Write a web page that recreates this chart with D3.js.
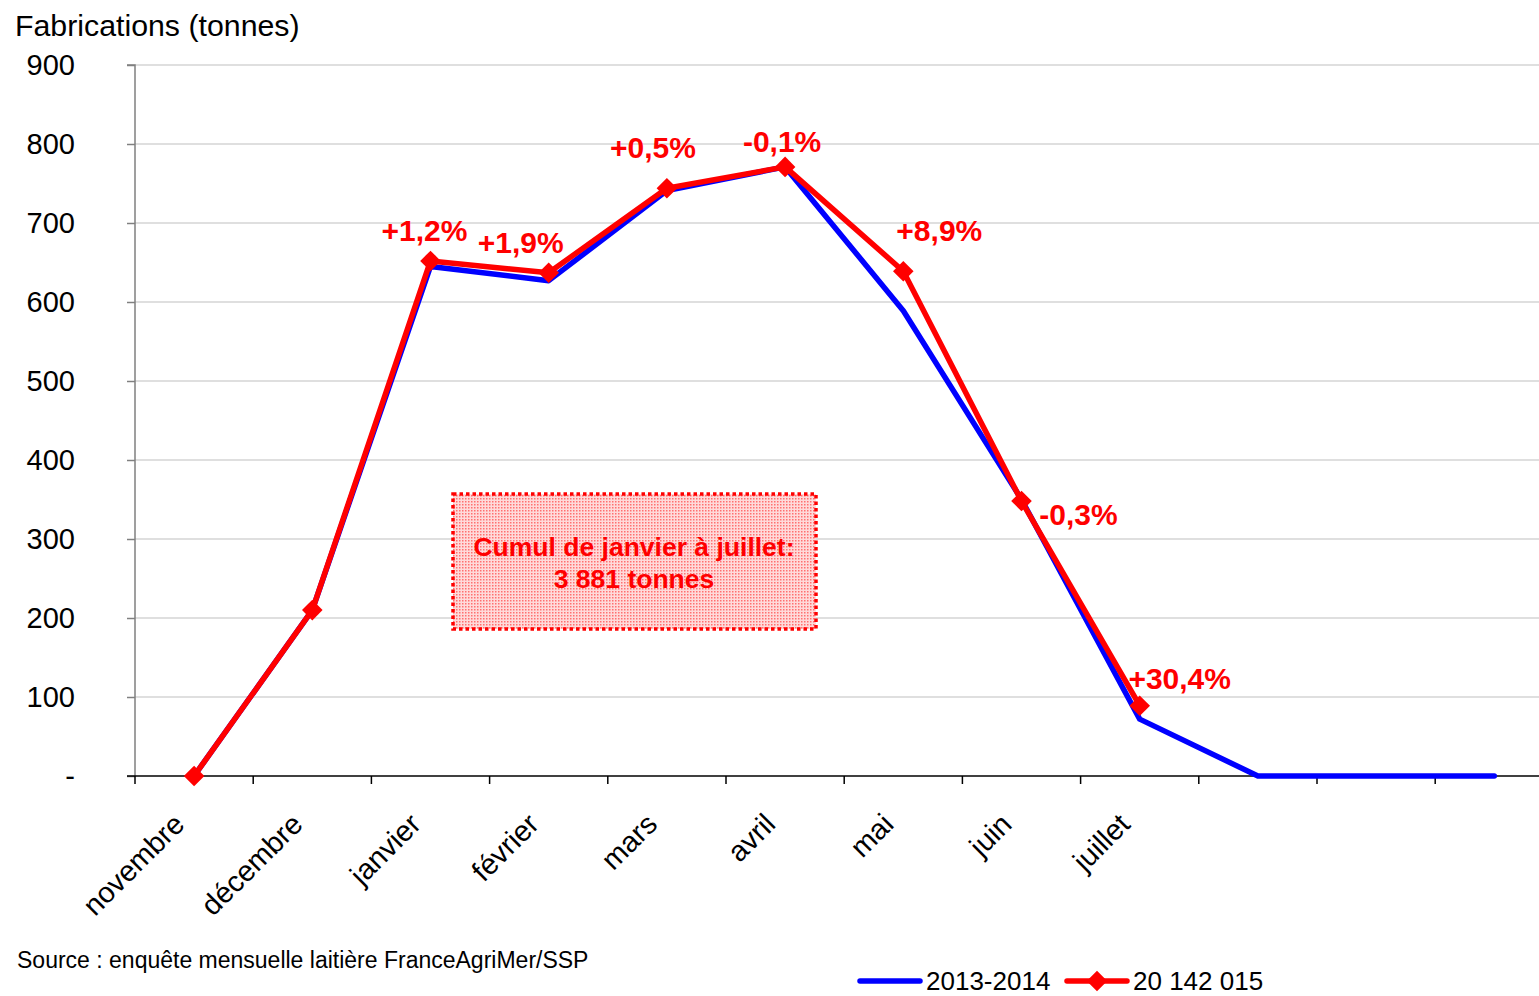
<!DOCTYPE html>
<html>
<head>
<meta charset="utf-8">
<script src="https://cdn.jsdelivr.net/npm/d3@7"></script>
<style>
  body { margin: 0; background: #fff; overflow: hidden; }
  text { font-family: "Liberation Sans", Arial, sans-serif; }
</style>
</head>
<body>
<svg id="chart" width="1539" height="996"></svg>
<script>
// months of the campaign, the last three have no label on the axis
let months = ['novembre', 'décembre', 'janvier', 'février', 'mars', 'avril', 'mai', 'juin', 'juillet', 'août', 'septembre', 'octobre'];
let monthLabels = ['novembre', 'décembre', 'janvier', 'février', 'mars', 'avril', 'mai', 'juin', 'juillet', '', '', ''];
let yTicks = [0, 100, 200, 300, 400, 500, 600, 700, 800, 900];
let yTickLabels = ['-', '100', '200', '300', '400', '500', '600', '700', '800', '900'];

let values2014 = [0, 210, 645, 627, 741, 771, 589, 350, 72, 0, 0, 0];
let values2015 = [0, 210, 652, 637, 744, 771, 639, 348, 89];
let variations = ['', '', '+1,2%', '+1,9%', '+0,5%', '-0,1%', '+8,9%', '-0,3%', '+30,4%'];

// where each variation label sits relative to its point [dx, dy]
let labelOffsets = [[0, 0], [0, 0], [-6, -20], [-28, -20], [-14, -30], [-3, -15], [36, -30], [57, 24], [40, -17]];

let svg = d3.select('#chart');
let margin = { left: 135, top: 65, bottom: 776 };
let band = 118.2;

let x = d3.scaleBand()
    .domain(months)
    .range([margin.left, margin.left + band * months.length])
    .padding(0);
let y = d3.scaleLinear()
    .domain([0, 900])
    .range([margin.bottom, margin.top]);
let cx = function(m) { return x(m) + x.bandwidth() / 2; };

// grid
svg.append('g').selectAll('line')
    .data(yTicks.filter(function(d) { return d > 0; }))
    .join('line')
        .attr('x1', margin.left).attr('x2', 1539)
        .attr('y1', function(d) { return y(d); })
        .attr('y2', function(d) { return y(d); })
        .attr('stroke', '#c0c0c0').attr('stroke-width', 1.2);

// y axis
let yAxis = d3.axisLeft(y)
    .tickValues(yTicks)
    .tickFormat(function(d, i) { return yTickLabels[i]; })
    .tickSize(8)
    .tickPadding(52);
let gy = svg.append('g')
    .attr('transform', 'translate(' + margin.left + ',0)')
    .call(yAxis);
gy.select('.domain').attr('stroke', '#808080').attr('stroke-width', 1.5).attr('d', 'M-8,' + y(900) + 'H0V' + y(0));
gy.selectAll('.tick line').attr('stroke', '#808080').attr('stroke-width', 1.5);
gy.selectAll('.tick text')
    .attr('font-size', 29)
    .attr('fill', '#000')
    .attr('text-anchor', 'end')
    .attr('x', -60);

// x axis
svg.append('line')
    .attr('x1', margin.left - 8).attr('x2', 1539)
    .attr('y1', y(0)).attr('y2', y(0))
    .attr('stroke', '#000').attr('stroke-width', 1.5);
svg.append('g').selectAll('line')
    .data(months)
    .join('line')
        .attr('x1', function(d) { return x(d); })
        .attr('x2', function(d) { return x(d); })
        .attr('y1', y(0)).attr('y2', y(0) + 8)
        .attr('stroke', '#000').attr('stroke-width', 1.5);
svg.append('g').selectAll('text')
    .data(months)
    .join('text')
        .attr('transform', function(d) { return 'translate(' + (cx(d) - 8) + ',' + (y(0) + 50) + ') rotate(-45)'; })
        .attr('text-anchor', 'end')
        .attr('font-size', 29)
        .text(function(d, i) { return monthLabels[i]; });

// axis title
svg.append('text')
    .attr('x', 15).attr('y', 36)
    .attr('font-size', 30.3)
    .text('Fabrications (tonnes)');

// cumul box
let defs = svg.append('defs');
let pat = defs.append('pattern')
    .attr('id', 'dots')
    .attr('width', 3).attr('height', 3)
    .attr('patternUnits', 'userSpaceOnUse');
pat.append('rect').attr('width', 3).attr('height', 3).attr('fill', '#ffdada');
pat.append('rect').attr('width', 1.5).attr('height', 1.5).attr('fill', '#ff7070');

svg.append('rect')
    .attr('x', 453).attr('y', 494)
    .attr('width', 363).attr('height', 135)
    .attr('fill', 'url(#dots)')
    .attr('stroke', '#ff0000').attr('stroke-width', 3.5)
    .attr('stroke-dasharray', '3.5,3');
svg.append('text')
    .attr('x', 634).attr('y', 556)
    .attr('text-anchor', 'middle')
    .attr('font-size', 26.5).attr('font-weight', 'bold').attr('fill', '#ff0000')
    .text('Cumul de janvier à juillet:');
svg.append('text')
    .attr('x', 634).attr('y', 588)
    .attr('text-anchor', 'middle')
    .attr('font-size', 26.5).attr('font-weight', 'bold').attr('fill', '#ff0000')
    .text('3 881 tonnes');

// series
let line = d3.line()
    .x(function(d, i) { return cx(months[i]); })
    .y(function(d) { return y(d); });

svg.append('path')
    .datum(values2014)
    .attr('d', line)
    .attr('fill', 'none')
    .attr('stroke', '#0000ff').attr('stroke-width', 5.5)
    .attr('stroke-linejoin', 'round').attr('stroke-linecap', 'round');

svg.append('path')
    .datum(values2015)
    .attr('d', line)
    .attr('fill', 'none')
    .attr('stroke', '#ff0000').attr('stroke-width', 5.5)
    .attr('stroke-linejoin', 'round').attr('stroke-linecap', 'round');

let diamond = d3.symbol().type(d3.symbolDiamond2).size(270);
svg.append('g').selectAll('path')
    .data(values2015)
    .join('path')
        .attr('d', diamond)
        .attr('transform', function(d, i) { return 'translate(' + cx(months[i]) + ',' + y(d) + ')'; })
        .attr('fill', '#ff0000');

// variation labels
svg.append('g').selectAll('text')
    .data(values2015)
    .join('text')
        .attr('x', function(d, i) { return cx(months[i]) + labelOffsets[i][0]; })
        .attr('y', function(d, i) { return y(d) + labelOffsets[i][1]; })
        .attr('text-anchor', 'middle')
        .attr('font-size', 30).attr('font-weight', 'bold').attr('fill', '#ff0000')
        .text(function(d, i) { return variations[i]; });

// source
svg.append('text')
    .attr('x', 17).attr('y', 968)
    .attr('font-size', 23)
    .text('Source : enquête mensuelle laitière FranceAgriMer/SSP');

// legend
let ly = 981;
let legend = svg.append('g');
legend.append('line')
    .attr('x1', 860).attr('x2', 920).attr('y1', ly).attr('y2', ly)
    .attr('stroke', '#0000ff').attr('stroke-width', 5.5).attr('stroke-linecap', 'round');
legend.append('text')
    .attr('x', 926).attr('y', ly)
    .attr('dy', '0.35em')
    .attr('font-size', 26)
    .text('2013-2014');
legend.append('line')
    .attr('x1', 1067).attr('x2', 1127).attr('y1', ly).attr('y2', ly)
    .attr('stroke', '#ff0000').attr('stroke-width', 5.5).attr('stroke-linecap', 'round');
legend.append('path')
    .attr('d', diamond)
    .attr('transform', 'translate(1097,' + ly + ')')
    .attr('fill', '#ff0000');
legend.append('text')
    .attr('x', 1133).attr('y', ly)
    .attr('dy', '0.35em')
    .attr('font-size', 26)
    .text('20 142 015');
</script>
</body>
</html>
